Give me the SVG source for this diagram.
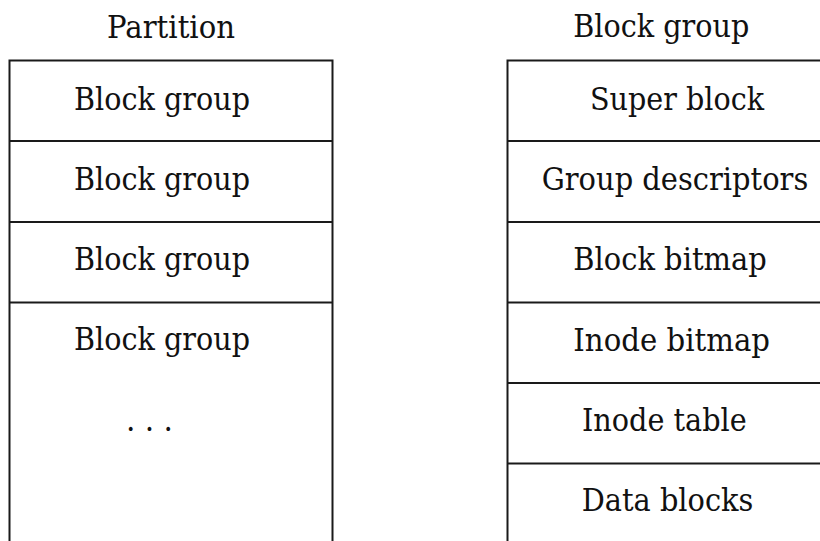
<svg xmlns="http://www.w3.org/2000/svg" width="820" height="541" viewBox="0 0 820 541">
<style>
.t{font-family:"DejaVu Serif","Liberation Serif",serif;font-size:31.5px;fill:#111}
.ln{stroke:#1a1a1a;stroke-width:2;fill:none}
</style>
<rect width="820" height="541" fill="#fff"/>
<g id="partition">
<text class="t" x="107" y="37.5" textLength="128" lengthAdjust="spacingAndGlyphs">Partition</text>
<path class="ln" d="M9.5,545 V60.5 H332.5 V545"/>
</g>
<g id="bg1"><path class="ln" d="M9.5,141 H332.5"/><text class="t" x="74" y="110" textLength="176" lengthAdjust="spacingAndGlyphs">Block group</text></g>
<g id="bg2"><path class="ln" d="M9.5,222 H332.5"/><text class="t" x="74" y="190" textLength="176" lengthAdjust="spacingAndGlyphs">Block group</text></g>
<g id="bg3"><path class="ln" d="M9.5,302.5 H332.5"/><text class="t" x="74" y="270" textLength="176" lengthAdjust="spacingAndGlyphs">Block group</text></g>
<g id="bg4"><text class="t" x="74" y="350" textLength="176" lengthAdjust="spacingAndGlyphs">Block group</text></g>
<g id="dots"><text class="t" x="126" y="431" textLength="47" lengthAdjust="spacingAndGlyphs">. . .</text></g>
<g id="blockgroup">
<text class="t" x="573.3" y="37.3" textLength="176" lengthAdjust="spacingAndGlyphs">Block group</text>
<path class="ln" d="M507.5,545 V60.5 H825"/>
</g>
<g id="super"><path class="ln" d="M507.5,141 H825"/><text class="t" x="590" y="110" textLength="174" lengthAdjust="spacingAndGlyphs">Super block</text></g>
<g id="gdesc"><path class="ln" d="M507.5,222 H825"/><text class="t" x="541.7" y="190" textLength="266.6" lengthAdjust="spacingAndGlyphs">Group descriptors</text></g>
<g id="bbitmap"><path class="ln" d="M507.5,302.5 H825"/><text class="t" x="573.3" y="270" textLength="193.4" lengthAdjust="spacingAndGlyphs">Block bitmap</text></g>
<g id="ibitmap"><path class="ln" d="M507.5,383 H825"/><text class="t" x="573.3" y="350.5" textLength="196.7" lengthAdjust="spacingAndGlyphs">Inode bitmap</text></g>
<g id="itable"><path class="ln" d="M507.5,463.5 H825"/><text class="t" x="582" y="431" textLength="164.7" lengthAdjust="spacingAndGlyphs">Inode table</text></g>
<g id="data"><text class="t" x="581.7" y="511" textLength="171.6" lengthAdjust="spacingAndGlyphs">Data blocks</text></g>
<g id="connectors"></g>
</svg>
